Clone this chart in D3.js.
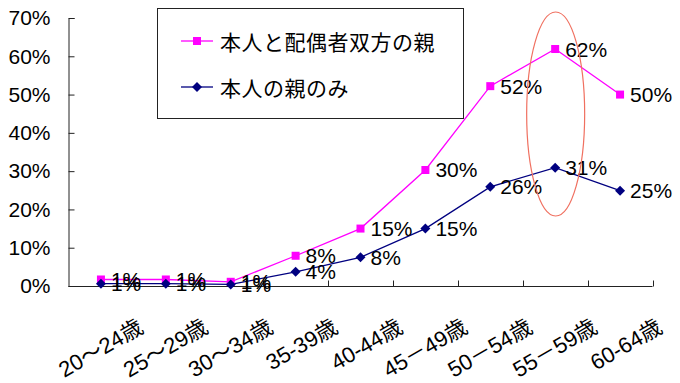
<!DOCTYPE html>
<html><head><meta charset="utf-8">
<script src="https://cdn.jsdelivr.net/npm/d3@7"></script>
<style>body{margin:0;background:#fff}svg{display:block}</style>
</head><body>
<script>
const categories = ["20～24歳","25～29歳","30～34歳","35-39歳","40-44歳","45－49歳","50－54歳","55－59歳","60-64歳"];
const seriesNames = ["本人と配偶者双方の親","本人の親のみ"];
const bothValues = [0.017,0.017,0.011,0.079,0.15,0.303,0.522,0.619,0.50];
const selfValues = [0.006,0.006,0.004,0.037,0.075,0.15,0.259,0.309,0.249];
const bothLabels = ["1%","1%","1%","8%","15%","30%","52%","62%","50%"];
const selfLabels = ["1%","1%","1%","4%","8%","15%","26%","31%","25%"];
const yTicks = [0,0.1,0.2,0.3,0.4,0.5,0.6,0.7];

const W=680,H=383;
const FONT = "'Liberation Sans', Arial, 'Noto Sans CJK JP', sans-serif";
const svg = d3.select("body").append("svg").attr("width",W).attr("height",H);

const x = d3.scaleBand().domain(categories).range([68.5,652.5]);
const y = d3.scaleLinear().domain([0,0.7]).range([286,18]);
const cx = d => x(d)+x.bandwidth()/2;

// Y axis
const yAxis = d3.axisLeft(y).tickValues(yTicks).tickSize(-6).tickPadding(18)
  .tickFormat(d3.format(".0%"));
const gy = svg.append("g").attr("transform","translate(68.5,0)").call(yAxis);
gy.select(".domain").attr("stroke","#222");
gy.selectAll(".tick line").attr("stroke","#222");
gy.selectAll("text").attr("font-family",FONT).attr("font-size",21).attr("fill","#000");

// X axis
const gx = svg.append("g").attr("transform","translate(0,286.5)");
gx.append("line").attr("x1",68.5).attr("x2",652.5).attr("stroke","#222");
const bounds = categories.map(c=>x(c)+x.bandwidth()).map(v=>Math.round(v)+0.5);
gx.selectAll("line.tk").data(bounds).join("line").attr("class","tk")
  .attr("x1",d=>d).attr("x2",d=>d).attr("y1",0).attr("y2",-6).attr("stroke","#222");
svg.append("g").selectAll("text").data(categories).join("text")
  .attr("transform",d=>`translate(${cx(d)+40},325) rotate(-30)`)
  .attr("text-anchor","end").attr("dominant-baseline","central")
  .attr("font-family",FONT).attr("font-size",22).attr("fill","#000")
  .text(d=>d);

// Lines
const line = vals => d3.line().x((d,i)=>cx(categories[i])).y(d=>y(d))(vals);
svg.append("path").attr("d",line(bothValues)).attr("fill","none").attr("stroke","#ff00ff").attr("stroke-width",1.3);
svg.append("path").attr("d",line(selfValues)).attr("fill","none").attr("stroke","#000080").attr("stroke-width",1.3);

// markers
svg.append("g").selectAll("rect").data(bothValues).join("rect")
  .attr("x",(d,i)=>cx(categories[i])-4).attr("y",d=>y(d)-4)
  .attr("width",8).attr("height",8).attr("fill","#ff00ff");
svg.append("g").selectAll("path").data(selfValues).join("path")
  .attr("d",(d,i)=>{const px=cx(categories[i]),py=y(d);return `M${px-5},${py}L${px},${py-5}L${px+5},${py}L${px},${py+5}Z`;})
  .attr("fill","#000080");

// data labels
svg.append("g").selectAll("text").data(bothValues).join("text")
  .attr("x",(d,i)=>cx(categories[i])+10).attr("y",d=>y(d))
  .attr("dominant-baseline","central").attr("font-family",FONT).attr("font-size",21)
  .attr("fill","#000").text((d,i)=>bothLabels[i]);
svg.append("g").selectAll("text").data(selfValues).join("text")
  .attr("x",(d,i)=>cx(categories[i])+10).attr("y",d=>y(d))
  .attr("dominant-baseline","central").attr("font-family",FONT).attr("font-size",21)
  .attr("fill","#000").text((d,i)=>selfLabels[i]);

// ellipse highlight
svg.append("ellipse").attr("cx",cx(categories[7])+0.5).attr("cy",114).attr("rx",29).attr("ry",102)
  .attr("fill","none").attr("stroke","#f07060").attr("stroke-width",1.2);

// Legend
const lg = svg.append("g");
lg.append("rect").attr("x",157.5).attr("y",8.5).attr("width",306).attr("height",110)
  .attr("fill","#fff").attr("stroke","#222");
const items = [{n:seriesNames[0],c:"#ff00ff",m:"sq",yy:41},{n:seriesNames[1],c:"#000080",m:"dia",yy:87}];
items.forEach(it=>{
  lg.append("line").attr("x1",181).attr("x2",213).attr("y1",it.yy).attr("y2",it.yy).attr("stroke",it.c).attr("stroke-width",1.3);
  if(it.m==="sq") lg.append("rect").attr("x",193).attr("y",it.yy-4).attr("width",8).attr("height",8).attr("fill",it.c);
  else lg.append("path").attr("d",`M192,${it.yy}L197,${it.yy-5}L202,${it.yy}L197,${it.yy+5}Z`).attr("fill",it.c);
  lg.append("text").attr("x",220).attr("y",it.yy).attr("dominant-baseline","central")
    .attr("font-family","'Noto Sans CJK JP', sans-serif").attr("font-size",21).attr("fill","#000")
    .attr("letter-spacing",0.5).text(it.n);
});
</script>
</body></html>
